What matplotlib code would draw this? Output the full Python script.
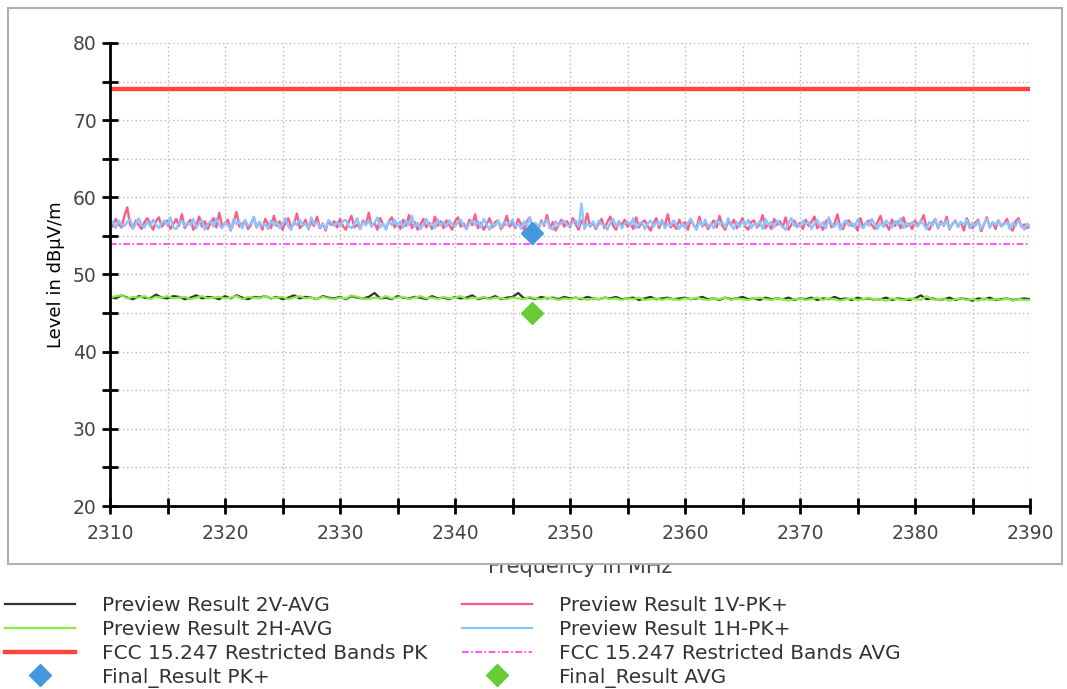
import matplotlib
matplotlib.use("Agg")
import matplotlib.pyplot as plt
import numpy as np
from matplotlib.patches import Rectangle
from matplotlib.lines import Line2D

# --- data (level in dBuV/m) ---
f_start, f_stop = 2310, 2390

# Preview Result 1V-PK+ (0.25 MHz steps)
pk_1v = [
    56.8, 56.2, 57.2, 56.5, 56.1, 57.6, 58.7, 56.4, 56.0, 57.0, 56.4, 55.9, 56.8, 57.3, 56.6, 55.8, 56.9, 57.4, 56.2, 56.7,
    57.0, 55.9, 56.5, 57.2, 56.3, 57.8, 56.0, 56.6, 57.1, 55.8, 56.4, 57.5, 56.2, 56.9, 55.9, 56.7, 57.3, 56.1, 58.0, 56.3,
    56.6, 57.1, 55.7, 56.8, 58.1, 56.2, 56.5, 57.0, 55.9, 56.4, 57.4, 56.1, 56.8, 55.8, 57.2, 56.5, 56.0, 57.6, 56.3, 56.9,
    55.8, 56.7, 57.3, 56.1, 56.6, 57.9, 56.0, 56.4, 57.1, 55.9, 56.8, 56.3, 57.5, 56.0, 56.6, 55.7, 57.0, 56.4, 56.9, 56.1,
    57.2, 56.3, 55.8, 56.8, 57.6, 56.1, 56.5, 55.9, 57.0, 56.4, 58.0, 56.2, 56.7, 55.8, 57.3, 56.5, 56.0, 56.9, 57.4, 56.1,
    56.6, 55.9, 57.1, 56.3, 57.7, 56.0, 56.8, 55.8, 56.5, 57.2, 56.1, 56.7, 55.9, 57.5, 56.3, 56.9, 56.0, 57.0, 56.4, 55.8,
    56.9, 57.4, 56.2, 56.6, 55.9, 57.1, 56.4, 57.8, 56.0, 56.7, 55.8, 56.5, 57.3, 56.1, 56.8, 57.0, 55.9, 56.4, 57.6, 56.2,
    56.7, 56.0, 57.2, 56.5, 55.8, 56.9, 57.4, 56.1, 56.6, 55.9, 57.0, 56.3, 57.7, 56.0, 56.8, 55.7, 56.4, 57.1, 56.2, 56.9,
    56.1, 57.3, 56.5, 55.8, 57.0, 56.4, 57.9, 56.2, 56.7, 55.9, 56.6, 57.2, 56.0, 56.8, 57.5, 56.3, 55.8, 56.9, 56.4, 57.1,
    56.2, 56.7, 55.9, 57.4, 56.1, 56.8, 57.0, 56.3, 55.7, 56.6, 57.3, 56.0, 56.9, 56.4, 57.8, 56.1, 56.5, 55.9, 57.1, 56.3,
    56.8, 55.8, 57.2, 56.4, 56.0, 57.5, 56.2, 56.7, 55.9, 56.5, 57.0, 56.1, 57.6, 56.3, 55.8, 56.9, 56.4, 57.1, 56.0, 56.6,
    57.3, 56.2, 55.8, 56.8, 57.0, 56.1, 56.5, 57.7, 56.0, 56.6, 55.9, 57.2, 56.4, 56.9, 56.1, 57.4, 55.8, 56.5, 57.0, 56.2,
    56.7, 55.9, 57.1, 56.3, 56.8, 57.5, 56.0, 56.4, 55.8, 56.9, 57.2, 56.1, 56.6, 57.8, 56.2, 55.9, 56.8, 57.0, 56.3, 56.5,
    55.7, 57.3, 56.1, 56.7, 57.0, 56.4, 55.9, 56.8, 57.6, 56.2, 56.5, 55.8, 57.1, 56.3, 56.9, 56.0, 57.4, 56.2, 56.6, 55.9,
    57.0, 56.4, 56.8, 57.7, 56.1, 55.8, 56.6, 57.2, 56.0, 56.9, 56.3, 57.5, 55.9, 56.5, 57.0, 56.2, 56.8, 55.7, 57.3, 56.4,
    56.0, 56.7, 57.1, 55.6, 56.5, 57.4, 56.1, 56.8, 55.9, 57.0, 56.3, 56.6, 57.2, 56.0, 55.7, 56.9, 57.3, 56.2, 56.5, 56.0,
    56.3,
]
# Preview Result 1H-PK+ (0.25 MHz steps)
pk_1h = [
    56.5, 56.9, 56.0, 57.0, 56.4, 56.3, 56.8, 57.2, 55.9, 56.6, 57.3, 56.4, 56.1, 56.9, 56.2, 57.1, 56.5, 56.0, 56.7, 57.0,
    56.3, 57.4, 56.1, 55.9, 56.6, 57.0, 56.2, 56.8, 56.4, 57.2, 56.0, 56.7, 57.0, 55.8, 56.5, 56.9, 56.2, 57.3, 56.4, 56.0,
    56.8, 56.4, 55.8, 57.2, 56.5, 56.9, 56.0, 57.0, 56.3, 56.6, 57.5, 56.1, 56.8, 56.3, 56.6, 55.9, 57.0, 56.4, 56.8, 56.0,
    56.5, 57.3, 56.2, 55.8, 56.9, 56.4, 57.1, 56.3, 56.6, 56.0, 57.4, 56.5, 56.8, 56.1, 56.5, 55.9, 57.0, 56.7, 56.3, 56.8,
    56.2, 56.9, 57.1, 56.3, 56.0, 56.6, 57.3, 55.9, 56.8, 56.4, 57.0, 56.2, 56.7, 57.4, 56.1, 56.6, 55.8, 56.9, 56.4, 57.1,
    56.3, 56.9, 56.1, 57.0, 56.4, 57.6, 56.2, 56.7, 55.9, 56.5, 57.2, 56.3, 56.6, 56.0, 57.1, 56.4, 56.8, 56.2, 57.0, 56.5,
    56.2, 56.8, 57.1, 56.3, 55.9, 56.6, 57.0, 56.4, 56.9, 56.1, 57.2, 56.5, 55.8, 56.7, 56.3, 57.0, 56.1, 56.8, 56.4, 56.6,
    57.1, 56.2, 56.6, 55.9, 56.9, 56.4, 57.3, 56.0, 56.7, 56.2, 56.8, 56.5, 57.1, 56.1, 55.8, 56.9, 56.3, 56.7, 57.0, 56.4,
    56.3, 56.8, 57.0, 56.2, 59.2, 55.9, 56.6, 56.3, 56.9, 56.1, 57.0, 56.5, 56.4, 55.8, 56.7, 57.2, 56.2, 56.9, 56.0, 56.6,
    56.9, 56.3, 57.3, 56.0, 56.5, 56.8, 55.9, 56.6, 57.0, 56.2, 56.8, 56.4, 57.1, 56.0, 56.6, 56.3, 57.0, 56.5, 55.9, 56.7,
    56.0, 56.7, 57.2, 56.4, 55.8, 56.9, 56.3, 57.1, 56.2, 56.6, 56.0, 57.0, 56.5, 56.8, 56.1, 57.3, 56.4, 55.9, 56.8, 56.2,
    56.9, 56.4, 57.1, 56.0, 56.6, 56.3, 56.9, 55.9, 57.2, 56.4, 56.8, 56.1, 57.0, 56.5, 56.2, 55.8, 56.7, 57.3, 56.3, 56.6,
    56.2, 57.0, 56.5, 56.8, 55.9, 56.6, 57.1, 56.3, 56.8, 56.0, 57.4, 56.5, 56.2, 56.9, 55.8, 56.6, 57.0, 56.3, 56.7, 56.1,
    57.1, 56.4, 56.0, 56.8, 56.3, 57.2, 56.5, 55.9, 56.7, 56.2, 57.0, 56.6, 56.1, 56.9, 56.4, 57.3, 56.0, 56.7, 56.3, 56.8,
    56.6, 56.2, 57.0, 56.5, 55.9, 56.8, 56.3, 57.2, 56.1, 56.7, 56.4, 57.0, 55.8, 56.6, 56.9, 56.2, 56.8, 56.4, 57.1, 56.0,
    56.7, 56.3, 56.9, 55.9, 56.6, 57.2, 56.1, 56.8, 56.4, 57.0, 56.2, 56.5, 56.8, 55.9, 56.7, 56.3, 57.0, 56.4, 55.8, 56.6,
    56.2,
]
# Preview Result 2V-AVG (0.5 MHz steps)
avg_2v = [
    47.1, 46.9, 47.3, 47.0, 46.8, 47.2, 47.0, 46.9, 47.4, 47.0, 46.9, 47.2, 47.1, 46.8, 47.0, 47.3, 46.9, 47.1, 47.0, 46.8,
    47.2, 46.9, 47.3, 47.0, 46.8, 47.1, 47.0, 47.2, 46.9, 47.1, 46.8, 47.0, 47.3, 46.9, 47.1, 47.0, 46.8, 47.2, 47.0, 46.9,
    47.1, 46.8, 47.2, 47.0, 46.9, 47.1, 47.6, 46.9, 47.0, 46.8, 47.2, 47.0, 46.9, 47.1, 47.0, 46.8, 47.2, 46.9, 47.0, 46.8,
    47.1, 46.9, 47.0, 47.3, 46.8, 47.0, 46.9, 47.2, 46.8, 47.0, 47.1, 47.6, 46.9, 47.0, 46.8, 47.1, 46.9, 47.0, 46.8, 47.1,
    46.9, 47.0, 46.8, 47.1, 46.9, 46.8, 47.0, 46.9, 47.1, 46.8, 46.9, 47.0, 46.7, 46.9, 47.1, 46.8, 46.9, 47.0, 46.8, 46.9,
    47.0, 46.8, 46.9, 47.1, 46.8, 46.9, 46.7, 47.0, 46.8, 46.9, 47.1, 46.8, 46.9, 46.7, 47.0, 46.8, 46.9, 46.8, 47.0, 46.7,
    46.9, 46.8, 47.0, 46.7, 46.9, 46.8, 47.1, 46.8, 46.9, 46.7, 47.0, 46.8, 46.9, 46.7, 46.8, 47.0, 46.7, 46.9, 46.8, 46.7,
    46.9, 47.3, 46.8, 46.9, 46.7, 46.8, 47.0, 46.7, 46.9, 46.8, 46.6, 46.9, 46.8, 47.0, 46.7, 46.8, 46.9, 46.7, 46.8, 46.9,
    46.8,
]
# Preview Result 2H-AVG (0.5 MHz steps)
avg_2h = [
    47.0, 47.2, 47.3, 46.9, 47.1, 47.0, 47.2, 46.8, 47.1, 47.0, 47.2, 46.9, 47.0, 47.1, 46.8, 47.0, 47.2, 46.9, 47.0, 47.1,
    46.9, 47.0, 47.2, 46.8, 47.1, 47.0, 46.9, 47.2, 46.9, 47.0, 47.1, 46.8, 47.0, 47.2, 46.9, 47.0, 46.8, 47.1, 46.9, 46.8,
    47.0, 46.9, 47.3, 47.1, 46.9, 46.8, 47.0, 46.9, 47.2, 46.9, 47.0, 47.1, 46.8, 47.0, 47.2, 46.9, 47.0, 46.8, 47.1, 46.9,
    47.0, 47.2, 46.8, 47.0, 46.9, 47.1, 46.8, 47.0, 46.9, 46.8, 47.0, 46.9, 46.8, 47.1, 46.9, 46.8, 47.0, 46.9, 46.7, 46.9,
    46.8, 47.0, 46.9, 46.7, 46.9, 46.8, 47.0, 46.8, 46.9, 46.7, 46.9, 46.8, 47.0, 46.7, 46.8, 46.9, 46.7, 46.9, 46.8, 46.7,
    46.9, 46.8, 47.0, 46.8, 46.7, 46.9, 46.8, 47.0, 46.7, 46.9, 46.8, 46.7, 46.9, 47.0, 46.8, 46.7, 46.9, 46.8, 46.6, 46.8,
    46.9, 46.7, 46.8, 47.0, 46.7, 46.9, 46.8, 46.6, 46.8, 46.9, 46.7, 46.8, 47.0, 46.7, 46.8, 46.6, 46.9, 46.8, 46.7, 46.9,
    46.8, 46.7, 47.2, 46.8, 46.7, 46.9, 46.6, 46.8, 46.9, 46.7, 46.8, 46.6, 46.9, 46.7, 46.8, 46.7, 46.9, 46.6, 46.8, 46.7,
    46.7,
]
limit_pk = 74.0
limit_avg = 54.0
final_freq = [2346.7]
final_pk = [55.4]
final_avg = [45.0]

freq_pk = np.linspace(f_start, f_stop, len(pk_1v))
freq_pk_h = np.linspace(f_start, f_stop, len(pk_1h))
freq_avg = np.linspace(f_start, f_stop, len(avg_2v))
freq_avg_h = np.linspace(f_start, f_stop, len(avg_2h))

C_2V, C_2H = "#333333", "#88ee44"
C_1V, C_1H = "#ff5c85", "#8cc4ff"
C_LPK, C_LAVG = "#ff4444", "#ff33ff"
C_FPK, C_FAVG = "#4499dd", "#66cc33"
AVG_DASH = (0, (4, 1.5, 1, 1.5))

W, H = 1067, 689
fig = plt.figure(figsize=(W / 100, H / 100), dpi=100)

ax = fig.add_axes([110 / W, 1 - 506 / H, 920 / W, 463 / H])

ax.plot(freq_avg, avg_2v, color=C_2V, linewidth=1.6)
ax.plot(freq_avg_h, avg_2h, color=C_2H, linewidth=1.6)
ax.plot(freq_pk, pk_1v, color=C_1V, linewidth=1.7)
ax.plot(freq_pk_h, pk_1h, color=C_1H, linewidth=1.7)
ax.axhline(limit_pk, color=C_LPK, linewidth=3.2)
ax.axhline(limit_avg, color=C_LAVG, linewidth=1.2, linestyle=AVG_DASH)
ax.plot(final_freq, final_pk, "D", color=C_FPK, markersize=11)
ax.plot(final_freq, final_avg, "D", color=C_FAVG, markersize=11)

ax.set_xlim(f_start, f_stop)
ax.set_ylim(20, 80)
ax.set_xticks(np.arange(2310, 2391, 10))
ax.set_xticks(np.arange(2315, 2390, 10), minor=True)
ax.set_yticks(np.arange(20, 81, 10))
ax.set_yticks(np.arange(25, 80, 10), minor=True)
ax.grid(True, which="both", color="#b8b8b8", linestyle=(0, (1, 2)), linewidth=1)
for side in ["top", "right"]:
    ax.spines[side].set_visible(False)
for side in ["left", "bottom"]:
    ax.spines[side].set_linewidth(2)
ax.tick_params(which="both", direction="inout", length=12, width=2,
               labelsize=13.5, labelcolor="#444444")
ax.tick_params(axis="x", pad=7)

ax.set_ylabel("Level in dB\u00b5V/m", fontsize=13, color="black", labelpad=6)

# x label sits half under the frame edge: only its lower part shows
fig.text(580 / W, 1 - 573 / H, "Frequency in MHz", ha="center", va="baseline",
         fontsize=15, color="#444444", zorder=3)
fig.add_artist(Rectangle((400 / W, 1 - 564.5 / H), 360 / W, 12 / H,
                         transform=fig.transFigure, facecolor="white",
                         edgecolor="none", zorder=4))
# outer frame
fig.add_artist(Rectangle((8 / W, 1 - 564 / H), 1054 / W, 556 / H,
                         transform=fig.transFigure, fill=False,
                         edgecolor="#b0b0b0", linewidth=1.5, zorder=5))


def handle_line(color, lw, ls="-"):
    return Line2D([], [], color=color, linewidth=lw, linestyle=ls)


def handle_mark(color):
    return Line2D([], [], color=color, marker="D", linestyle="none", markersize=11)


left_h = [handle_line(C_2V, 1.6), handle_line(C_2H, 1.6),
          handle_line(C_LPK, 3.2), handle_mark(C_FPK)]
left_l = ["Preview Result 2V-AVG", "Preview Result 2H-AVG",
          "FCC 15.247 Restricted Bands PK", "Final_Result PK+"]
right_h = [handle_line(C_1V, 1.6), handle_line(C_1H, 1.6),
           handle_line(C_LAVG, 1.2, AVG_DASH), handle_mark(C_FAVG)]
right_l = ["Preview Result 1V-PK+", "Preview Result 1H-PK+",
           "FCC 15.247 Restricted Bands AVG", "Final_Result AVG"]

kw = dict(frameon=False, fontsize=14.5, handlelength=3.5, handletextpad=1.3,
          labelspacing=0.24, borderpad=0, borderaxespad=0, labelcolor="#333333",
          loc="upper left")
fig.legend(left_h, left_l, bbox_to_anchor=(5 / W, 1 - 596 / H), **kw)
fig.legend(right_h, right_l, bbox_to_anchor=(462 / W, 1 - 596 / H), **kw)

fig.savefig("out.png", dpi=100)
